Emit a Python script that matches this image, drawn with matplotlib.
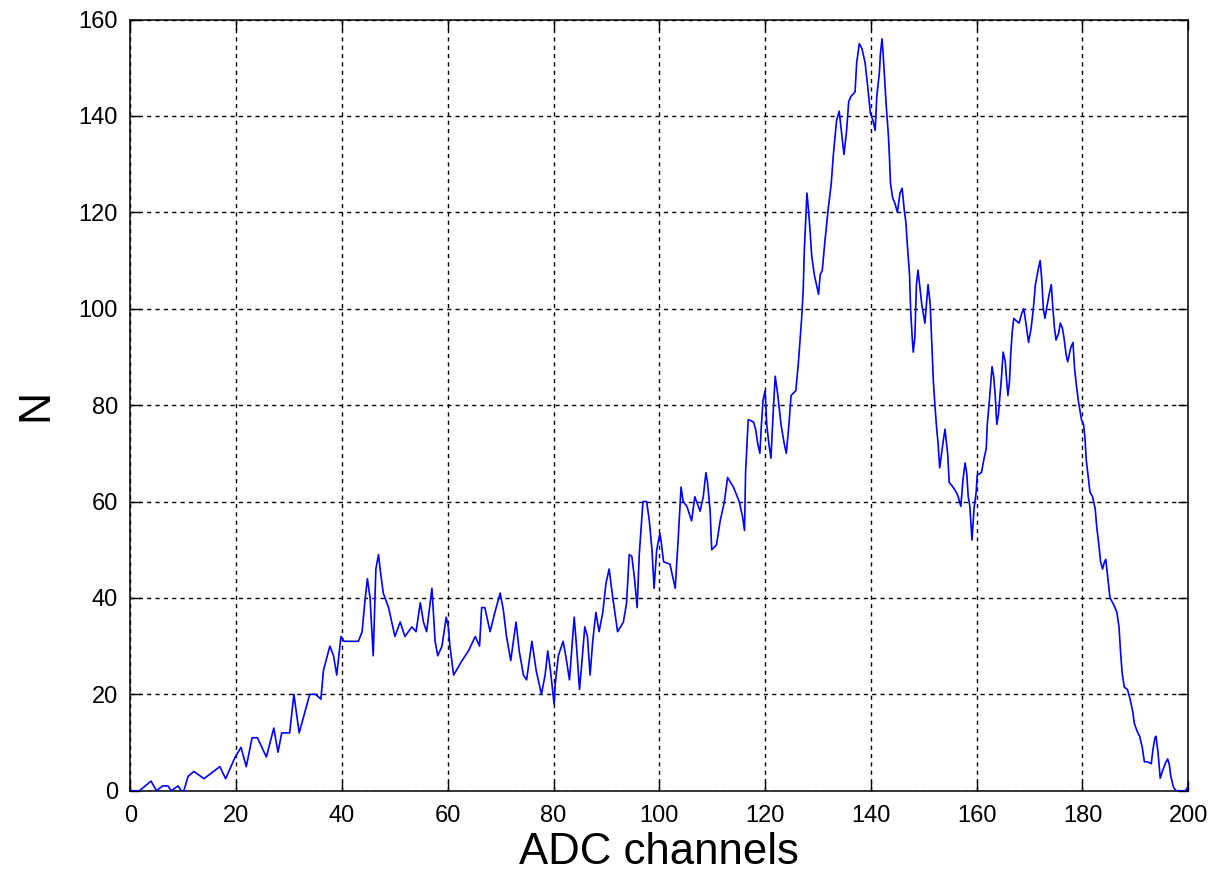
import matplotlib
matplotlib.use("Agg")
import matplotlib.pyplot as plt

# Spectrum: ADC channel vs. counts N
channel = [
    0, 1.7, 3.9, 4.9, 6.1, 7.1, 7.7, 9.0, 9.6, 10.1, 10.9, 12.0, 13.9, 16.9, 18.0,
    19.8, 20.9, 21.9, 23.0, 24.0, 25.7, 27.1, 27.9, 28.6, 30.1, 30.9, 31.9, 33.9, 35.0,
    36.0, 36.5, 37.7, 38.4, 39.0, 39.8, 40.4, 43.1, 43.8, 44.3, 44.8, 45.3, 45.9, 46.4,
    46.9, 47.2, 47.8, 48.8, 50.0, 51.0, 51.9, 53.2, 54.0, 54.8, 55.4, 56.0, 57.0, 57.6,
    58.1, 58.9, 59.7, 60.1, 60.4, 61.1, 62.7, 63.9, 65.2, 66.0, 66.4, 67.0, 68.0, 68.9,
    69.9, 70.5, 71.1, 71.9, 72.4, 72.9, 73.5, 74.3, 74.9, 75.9, 76.7, 77.7, 78.4, 78.9,
    79.4, 80.1, 80.3, 80.9, 81.8, 82.3, 83.0, 83.9, 84.4, 84.9, 85.3, 85.9, 86.4, 86.9,
    87.4, 88.0, 88.6, 89.3, 89.9, 90.5, 91.2, 92.1, 93.2, 93.8, 94.3, 94.8, 95.3, 95.8,
    96.2, 96.9, 97.6, 98.1, 98.6, 99.0, 99.5, 100.1, 100.3, 100.8, 102.0, 103.0, 103.6,
    104.1, 104.5, 105.2, 106.1, 106.7, 107.7, 108.3, 108.8, 109.1, 109.6, 109.9, 110.8,
    111.5, 112.3, 112.9, 114.0, 115.1, 115.7, 116.1, 116.3, 116.8, 117.8, 118.2, 118.6,
    119.0, 119.3, 119.6, 120.0, 120.3, 120.7, 121.1, 121.5, 121.9, 122.4, 123.0, 123.6,
    124.0, 124.5, 124.9, 125.8, 126.3, 126.6, 126.9, 127.2, 127.4, 127.9, 128.2, 128.5,
    128.8, 129.3, 130.1, 130.4, 130.8, 131.3, 131.9, 132.5, 132.9, 133.5, 134.0, 134.5,
    134.9, 135.4, 135.8, 136.2, 137.0, 137.3, 137.8, 138.3, 138.9, 139.4, 139.9, 140.4,
    140.8, 141.1, 141.6, 141.8, 142.1, 142.3, 142.6, 142.9, 143.3, 143.5, 143.7, 144.1,
    144.5, 145.0, 145.5, 145.9, 146.3, 146.6, 146.9, 147.3, 147.5, 147.8, 148.0, 148.3,
    148.6, 148.9, 149.2, 149.6, 149.9, 150.2, 150.5, 150.8, 151.2, 151.5, 151.8, 152.1,
    152.4, 152.7, 153.0, 153.6, 154.0, 154.5, 154.8, 155.5, 156.1, 156.5, 157.0, 157.4,
    157.8, 158.1, 158.4, 158.7, 159.1, 159.5, 159.9, 160.1, 160.9, 161.4, 161.8, 162.0,
    162.4, 162.9, 163.2, 163.5, 163.8, 164.1, 164.4, 164.7, 165.0, 165.4, 165.7, 165.9,
    166.2, 166.4, 166.7, 167.0, 168.0, 168.5, 168.9, 169.3, 169.8, 170.3, 170.7, 171.1,
    171.6, 172.0, 172.3, 172.6, 172.9, 173.2, 173.7, 174.1, 174.4, 174.7, 175.0, 175.5,
    175.8, 176.2, 176.5, 176.9, 177.2, 177.5, 177.8, 178.2, 178.5, 178.9, 179.2, 179.5,
    179.8, 180.2, 180.5, 180.7, 181.1, 181.4, 181.9, 182.4, 182.7, 183.1, 183.4, 183.8,
    184.1, 184.4, 184.8, 185.2, 185.9, 186.5, 186.9, 187.2, 187.5, 187.9, 188.5, 189.0,
    189.5, 189.8, 190.3, 190.8, 191.3, 191.7, 192.3, 193.0, 193.3, 193.7, 193.9, 194.3,
    194.7, 195.1, 195.7, 196.1, 196.4, 196.7, 197.2, 197.7, 199.5, 200.0,
]
counts = [
    0, 0, 2, 0, 1, 1, 0, 1, 0, 0, 3, 4, 2.5, 5, 2.5,
    7, 9, 5, 11, 11, 7, 13, 8, 12, 12, 20, 12, 20, 20,
    19, 25, 30, 28, 24, 32, 31, 31, 33, 39, 44, 40, 28, 46,
    49, 46, 41, 38, 32, 35, 32, 34, 33, 39, 35, 33, 42, 31,
    28, 30, 36, 34, 30, 24, 27, 29, 32, 30, 38, 38, 33, 37,
    41, 37.5, 32, 27, 31, 35, 29, 24, 23, 31, 25, 20, 24, 29,
    25, 18, 22, 28, 31, 28, 23, 36, 29, 21, 26, 34, 32, 24,
    31, 37, 33, 37, 43, 46, 40, 33, 35, 39, 49, 48.6, 44, 38,
    49, 60, 60, 56, 50, 42, 50, 53.4, 52, 47.5, 47, 42, 53,
    63, 60, 59, 56, 61, 58, 61, 66, 64, 58, 50, 51,
    56, 60, 65, 63, 60, 57, 54, 66, 77, 76.5, 75, 72,
    70, 76, 81, 83, 76, 72, 69, 78, 86, 82, 76, 72,
    70, 76, 82, 83, 89, 93.5, 98, 104, 112, 124, 120.5, 116,
    111, 107, 103, 107, 108, 114, 120.5, 126, 132, 139, 141, 136,
    132, 137, 143, 144, 145, 151, 155, 154, 151, 146, 140.5, 139,
    137, 144, 149, 153, 156, 153, 147.5, 142, 136, 131.5, 126, 123,
    122, 120, 124, 125, 120.5, 118, 113, 107, 100, 94, 91, 94,
    105, 108, 105, 101, 99, 97, 101, 105, 101, 93, 85, 80,
    75.5, 72, 67, 72, 75, 70, 64, 63, 62, 61, 59, 64.5,
    68, 66, 61, 59, 52, 58.6, 62, 65.5, 66, 69, 71, 76,
    81, 88, 86, 82, 76, 78, 82, 86, 91, 89, 84.5, 82,
    85, 90, 95, 98, 97, 99, 100, 97, 93, 96, 100, 105,
    108, 110, 106, 100, 98, 100, 103, 105, 100, 96, 93.5, 95,
    97, 96, 94, 90.5, 89, 90.5, 92, 93, 87.6, 83.6, 81, 79,
    77, 76, 72.7, 68.7, 65, 62, 61, 58.5, 54.6, 51, 47.6, 46,
    47.3, 48, 44, 40, 38.6, 37, 34, 28.7, 24.4, 21.5, 21, 19,
    16.4, 14, 12.4, 11.3, 9, 6, 6, 5.6, 8.4, 11, 11.3, 7.7,
    2.6, 4, 5.8, 6.6, 5.5, 3, 0.7, 0, 0, 1,
]

x_ticks = list(range(0, 201, 20))
y_ticks = list(range(0, 161, 20))

plt.rcParams["font.family"] = ["Liberation Sans", "DejaVu Sans"]

fig = plt.figure(figsize=(12.18, 8.72), dpi=100)
ax = fig.add_axes([0.1071, 0.0932, 0.8685, 0.8844])

ax.plot(channel, counts, color=(0, 0, 1), linewidth=1.2, zorder=3)

ax.set_xlim(0, 200)
ax.set_ylim(0, 160)
ax.set_xticks(x_ticks)
ax.set_yticks(y_ticks)

ax.grid(True, color="black", linestyle=(0, (3, 3)), linewidth=1.0)
ax.set_axisbelow(True)

ax.tick_params(direction="in", length=7, width=1.0, top=True, right=True,
               labelsize=17, colors="black")
ax.tick_params(axis="x", pad=10)
ax.tick_params(axis="y", pad=9)
for s in ax.spines.values():
    s.set_linewidth(1.1)
    s.set_color("black")

ax.set_xlabel("ADC channels", fontsize=31.5, labelpad=4)
ax.set_ylabel("N", fontsize=32, labelpad=16)

fig.savefig("out.png", dpi=100)
